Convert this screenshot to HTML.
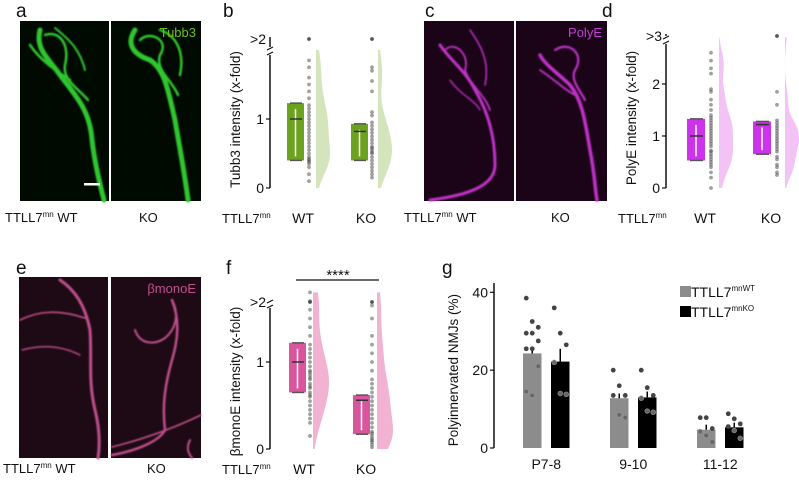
<!DOCTYPE html>
<html><head><meta charset="utf-8">
<style>
html,body{margin:0;padding:0;background:#fff;}
svg{display:block;font-family:"Liberation Sans",Arial,sans-serif;}
</style></head>
<body>
<svg id="fig" width="799" height="481" viewBox="0 0 799 481" xmlns="http://www.w3.org/2000/svg">
<defs>
<filter id="glow" x="-20%" y="-20%" width="140%" height="140%"><feGaussianBlur stdDeviation="0.9"/></filter>
</defs>
<g font-size="19" fill="#111">
<text x="16" y="17">a</text>
<text x="223" y="17">b</text>
<text x="425" y="17">c</text>
<text x="602" y="17">d</text>
<text x="16" y="274">e</text>
<text x="226" y="274">f</text>
<text x="442" y="274">g</text>
</g>

<g>
<rect x="20" y="21" width="89" height="180" fill="#010a01"/>
<rect x="111" y="21" width="90" height="180" fill="#010a01"/>
<g fill="none" stroke="#2fc62f" stroke-linecap="round" filter="url(#glow)">
<path d="M40 30 C35 50 50 60 60 75 C75 95 90 110 92 140 C95 165 100 185 104 200" stroke-width="5"/>
<path d="M45 35 C60 30 70 45 65 65 C62 80 80 90 88 100" stroke-width="2.5"/>
<path d="M30 45 C40 60 55 70 70 80" stroke-width="2.5"/>
<path d="M55 28 C70 40 80 50 85 70" stroke-width="2"/>
<path d="M135 30 C125 45 135 55 150 60 C165 70 168 90 175 120 C180 150 185 175 188 200" stroke-width="5"/>
<path d="M140 40 C150 30 170 40 160 55 C155 70 172 80 178 95" stroke-width="2.5"/>
<path d="M160 30 C175 35 185 50 180 75" stroke-width="2.5"/>
</g>
<text x="196" y="37" font-size="13" fill="#6cbe1e" text-anchor="end">Tubb3</text>
<rect x="84" y="183" width="16" height="2.5" fill="#fff"/>
</g>

<g>
<rect x="424" y="21" width="90" height="180" fill="#1c0418"/>
<rect x="516" y="21" width="91" height="180" fill="#1c0418"/>
<g fill="none" stroke="#c030c8" stroke-linecap="round" filter="url(#glow)">
<path d="M440 45 C450 60 465 70 475 90 C490 115 495 140 495 165 C495 185 470 195 430 200" stroke-width="3"/>
<path d="M445 50 C455 40 470 55 465 70 C470 85 485 95 490 110" stroke-width="1.8"/>
<path d="M470 30 C480 45 490 60 485 85" stroke-width="1.5"/>
<path d="M450 80 C460 95 475 100 480 110" stroke-width="1.3"/>
<path d="M540 55 C545 65 560 75 570 85 C582 100 585 120 590 150 C595 175 595 190 597 200" stroke-width="3.5"/>
<path d="M555 50 C570 40 585 55 575 70 C570 80 580 90 585 100" stroke-width="2.2"/>
<path d="M540 70 C555 80 565 90 575 95" stroke-width="1.8"/>
</g>
<text x="602" y="37" font-size="13" fill="#c040d8" text-anchor="end">PolyE</text>
</g>

<g>
<rect x="19" y="277" width="89" height="181" fill="#1e0a14"/>
<rect x="111" y="277" width="90" height="181" fill="#1e0a14"/>
<g fill="none" stroke="#c0508c" stroke-linecap="round" filter="url(#glow)">
<path d="M60 280 C75 290 85 305 90 330 C92 360 88 380 95 410 C100 430 100 445 98 458" stroke-width="3"/>
<path d="M20 320 C40 310 60 310 85 318" stroke-width="1.6"/>
<path d="M22 350 C40 345 60 345 80 355" stroke-width="1.3"/>
<path d="M135 330 C140 345 155 345 165 338 C175 330 180 315 172 300" stroke-width="2"/>
<path d="M172 300 C180 320 178 340 172 360 C165 385 162 405 165 430 C160 440 140 450 112 455" stroke-width="2.5"/>
<path d="M201 415 C170 430 140 440 112 447" stroke-width="1.6"/>
<path d="M190 440 C185 450 190 455 192 458" stroke-width="2"/>
</g>
<text x="196" y="293" font-size="13" fill="#c05090" text-anchor="end">βmonoE</text>
</g>

<g font-size="13" fill="#111">
<text x="5" y="222">TTLL7<tspan font-size="8" dy="-5">mn</tspan><tspan dy="5"> WT</tspan></text>
<text x="139" y="222">KO</text>
<text x="404" y="222">TTLL7<tspan font-size="8" dy="-5">mn</tspan><tspan dy="5"> WT</tspan></text>
<text x="551" y="222">KO</text>
<text x="3" y="473">TTLL7<tspan font-size="8" dy="-5">mn</tspan><tspan dy="5"> WT</tspan></text>
<text x="147" y="473">KO</text>
</g>

<g id="plots"></g>
</svg>
<script>
const groupLabels = ['WT', 'KO'];
const bQuart = [[0.4, 1.0, 1.23], [0.4, 0.82, 0.93]];
const bWT = [0.1,0.2,0.3,0.35,0.38,0.4,0.42,0.45,0.5,0.55,0.6,0.65,0.7,0.75,0.8,0.85,0.9,0.95,1.0,1.05,1.1,1.15,1.2,1.3,1.4,1.5,1.6,1.75,1.85,2.5];
const bKO = [0.15,0.2,0.25,0.3,0.35,0.4,0.45,0.5,0.52,0.55,0.58,0.6,0.65,0.7,0.75,0.8,0.85,0.9,0.95,1.05,1.1,1.4,1.55,1.7,1.75,2.5];
const dQuart = [[0.53, 1.0, 1.33], [0.65, 1.22, 1.28]];
const dWT = [0,0.2,0.3,0.4,0.45,0.5,0.55,0.6,0.65,0.7,0.72,0.8,0.85,0.9,0.95,1.0,1.05,1.1,1.15,1.2,1.25,1.3,1.35,1.4,1.5,1.6,1.7,1.85,1.9,2.2,2.3,2.45,2.6];
const dKO = [0.25,0.3,0.4,0.45,0.55,0.6,0.7,0.75,0.8,0.85,0.9,0.95,1.0,1.05,1.1,1.15,1.2,1.25,1.3,1.6,1.85,3.5];
const fQuart = [[0.65, 1.0, 1.22], [0.17, 0.56, 0.62]];
const fWT = [0.15,0.3,0.35,0.4,0.45,0.5,0.55,0.6,0.62,0.65,0.7,0.72,0.75,0.8,0.82,0.85,0.88,0.9,0.95,1.0,1.05,1.1,1.15,1.2,1.3,1.4,1.5,1.6,1.7,1.8,2.5];
const fKO = [0.02,0.05,0.08,0.1,0.12,0.15,0.18,0.2,0.25,0.3,0.35,0.4,0.45,0.5,0.55,0.6,0.65,0.7,0.75,0.8,0.9,1.0,1.1,1.2,1.3,1.5,1.65,2.5];

const gCategories = ['P7-8', '9-10', '11-12'];
const gWT = [24.3, 12.8, 4.7];
const gKO = [22.2, 13.0, 5.3];
const gWTerr = [1.6, 1.2, 1.3];
const gKOerr = [3.3, 1.5, 1.2];
const gWTdots = [[38.5,32.5,31,29.5,29.5,27.5,25.5,25.5,21,14.5,13.5],[20,16,13.5,13.5,8.5,7.8],[7.8,7.8,5,4.2,3.2,1.5]];
const gKOdots = [[36,29.5,26.5,22,14,13.8],[20,15.5,13.5,12.8,9.5,9.2],[8.8,7.5,6.2,5.5,4.5,2.5]];
const gTicks = [0, 20, 40];

const NS = 'http://www.w3.org/2000/svg';
const root = document.getElementById('plots');
function mk(tag, attrs, parent) {
  const e = document.createElementNS(NS, tag);
  for (const k in attrs) e.setAttribute(k, attrs[k]);
  (parent || root).appendChild(e);
  return e;
}

function raincloud(cfg) {
  const g = mk('g', {});
  
  
  const y = v => cfg.y0 - v * (cfg.y0 - cfg.y1);
  const yv = v => v > cfg.breakVal ? cfg.outY : y(v);
  const ax = mk('line', {x1: cfg.ax, x2: cfg.ax, y1: cfg.y0, y2: cfg.breakY + 4, stroke: '#111', 'stroke-width': 1.5}, g);
  
  
  mk('line', {x1: cfg.ax, x2: cfg.ax, y1: cfg.breakY - 4, y2: cfg.outY - 2, stroke: '#111', 'stroke-width': 1.5}, g);
  mk('path', {d: `M${cfg.ax-3} ${cfg.breakY-1} l6 -3 M${cfg.ax-3} ${cfg.breakY+4} l6 -3`, stroke: '#111', 'stroke-width': 1.2, fill: 'none'}, g);
  cfg.ticks.forEach(t => {
    mk('line', {x1: cfg.ax - 4, x2: cfg.ax, y1: y(t), y2: y(t), stroke: '#111', 'stroke-width': 1.2}, g);
    const tx = mk('text', {x: cfg.ax - 6, y: y(t) + 5, 'font-size': 14, 'text-anchor': 'end', fill: '#111'}, g);
    tx.textContent = t;
    
    
  });
  const ot = mk('text', {x: cfg.ax - 4, y: cfg.outY + 5, 'font-size': 14, 'text-anchor': 'end', fill: '#111'}, g);
  ot.textContent = cfg.outLabel;
  
  
  const yt = mk('text', {transform: `translate(${cfg.ax - 30},${(cfg.y0 + cfg.outY) / 2 + 6}) rotate(-90)`, 'font-size': 13.5, 'text-anchor': 'middle', fill: '#111'}, g);
  yt.textContent = cfg.ytitle;
  
  
  const xl = mk('text', {x: cfg.ax - 48, y: cfg.labelY, 'font-size': 13, fill: '#111'}, g);
  xl.innerHTML = 'TTLL7<tspan font-size="8" dy="-5">mn</tspan>';
  
  
  cfg.groups.forEach((grp, i) => {
    const bx = cfg.boxX[i], bw = cfg.boxW;
    const [q1, med, q3] = grp.q;
    const vx = cfg.violX[i];
    const vals = grp.data.map(v => Math.min(v, cfg.breakVal));
    const bw2 = 0.18;
    let maxd = 0;
    const steps = 60;
    const dens = [];
    for (let s = 0; s <= steps; s++) {
      const v = cfg.breakVal * s / steps;
      let d = 0;
      vals.forEach(x => { d += Math.exp(-0.5 * ((v - x) / bw2) ** 2); });
      dens.push([v, d]);
      if (d > maxd) maxd = d;
    }
    let p = `M${vx} ${y(0)}`;
    dens.forEach(([v, d]) => { p += ` L${(vx + d / maxd * cfg.violW).toFixed(1)} ${y(v).toFixed(1)}`; });
    p += ` L${vx} ${y(cfg.breakVal)} Z`;
    const vio = mk('path', {d: p, fill: cfg.violColor}, g);
    
    
    const box = mk('rect', {x: bx, y: y(q3), width: bw, height: y(q1) - y(q3), fill: cfg.boxColor}, g);
    
    
    mk('line', {x1: bx + bw / 2, x2: bx + bw / 2, y1: y(q3) + 6, y2: y(q1) - 4, stroke: '#fff', 'stroke-width': 1.5}, g);
    [q1, q3].forEach(q => mk('line', {x1: bx + 3, x2: bx + bw - 2, y1: y(q), y2: y(q), stroke: '#555', 'stroke-width': 1.5}, g));
    const mline = mk('line', {x1: bx + 3, x2: bx + bw - 2, y1: y(med), y2: y(med), stroke: '#333', 'stroke-width': 1.5}, g);
    
    
    grp.data.forEach(v => {
      const c = mk('circle', {cx: cfg.dotX[i], cy: yv(v), r: 1.9, fill: '#444', 'fill-opacity': v > cfg.breakVal ? 0.9 : 0.5}, g);
      
      
    });
    const gl = mk('text', {x: cfg.dotX[i] - 6, y: cfg.labelY, 'font-size': 14, 'text-anchor': 'middle', fill: '#111'}, g);
    gl.textContent = groupLabels[i];
    
    
  });
  return {g, y};
}

raincloud({name: 'tubb3-raincloud', ax: 270, y0: 188, y1: 119, breakVal: 2.0, breakY: 51, outY: 39, outLabel: '>2', ticks: [0, 1],
  ytitle: 'Tubb3 intensity (x-fold)', labelY: 223, boxX: [287, 351], boxW: 17, dotX: [309, 372], violX: [316, 378], violW: 14,
  boxColor: '#6ba21f', violColor: '#d4e5be',
  groups: [{q: bQuart[0], data: bWT}, {q: bQuart[1], data: bKO}]});

raincloud({name: 'polye-raincloud', ax: 666, y0: 188, y1: 136, breakVal: 2.9, breakY: 40, outY: 36, outLabel: '>3', ticks: [0, 1, 2],
  ytitle: 'PolyE intensity (x-fold)', labelY: 223, boxX: [687, 753], boxW: 18, dotX: [711, 777], violX: [719, 785], violW: 14,
  boxColor: '#cc33ea', violColor: '#f3c3f6',
  groups: [{q: dQuart[0], data: dWT}, {q: dQuart[1], data: dKO}]});

raincloud({name: 'betamonoe-raincloud', ax: 270, y0: 449, y1: 362, breakVal: 1.8, breakY: 304, outY: 302, outLabel: '>2', ticks: [0, 1],
  ytitle: 'βmonoE intensity (x-fold)', labelY: 474, boxX: [289, 353], boxW: 17, dotX: [310, 372], violX: [313, 377], violW: 16,
  boxColor: '#d9559d', violColor: '#f2b3d3',
  groups: [{q: fQuart[0], data: fWT}, {q: fQuart[1], data: fKO}]});

const sig = mk('g', {});


mk('line', {x1: 296, x2: 379, y1: 280, y2: 280, stroke: '#111', 'stroke-width': 1.3}, sig);
const st = mk('text', {x: 338, y: 280, 'font-size': 15, 'text-anchor': 'middle', fill: '#111'}, sig);
st.textContent = '****';

(function () {
  const g = mk('g', {});
  
  
  const ax = 494, y0 = 448, yTop = 292.3;
  const y = v => y0 - v / 40 * (y0 - yTop);
  const groupX = [523, 610, 697];
  const bw = 18.5, gap = 28;
  const axl = mk('line', {x1: ax, x2: ax, y1: y0, y2: 283, stroke: '#111', 'stroke-width': 1.5}, g);
  
  
  gTicks.forEach(t => {
    mk('line', {x1: ax - 4, x2: ax, y1: y(t), y2: y(t), stroke: '#111', 'stroke-width': 1.2}, g);
    const tx = mk('text', {x: ax - 6, y: y(t) + 5, 'font-size': 14, 'text-anchor': 'end', fill: '#111'}, g);
    tx.textContent = t;
    
    
  });
  const yt = mk('text', {transform: `translate(${ax - 36},${y(20)}) rotate(-90)`, 'font-size': 13.5, 'text-anchor': 'middle', fill: '#111'}, g);
  yt.textContent = 'Polyinnervated NMJs (%)';
  
  
  gCategories.forEach((c, i) => {
    const series = [[gWT, gWTerr, gWTdots, '#8c8c8c', 'wt'], [gKO, gKOerr, gKOdots, '#000', 'ko']];
    series.forEach(([vals, errs, dots, col, nm], j) => {
      const x = groupX[i] + j * gap;
      const r = mk('rect', {x: x, y: y(vals[i]), width: bw, height: y0 - y(vals[i]), fill: col}, g);
      
      
      mk('line', {x1: x + bw / 2, x2: x + bw / 2, y1: y(vals[i]), y2: y(vals[i] + errs[i]), stroke: '#000', 'stroke-width': 1.5}, g);
      const d = dots[i];
      d.forEach((v, k) => {
        const inside = v < vals[i];
        const off = ((k % 3) - 1) * 6;
        const dot = mk('circle', {cx: x + bw / 2 + off, cy: y(v), r: 2.4, fill: inside ? '#666' : '#444', stroke: inside ? '#999' : 'none', 'stroke-width': 0.6}, g);
        
        
      });
    });
    const xl = mk('text', {x: groupX[i] + gap / 2 + bw / 2, y: 469, 'font-size': 14, 'text-anchor': 'middle', fill: '#111'}, g);
    xl.textContent = c;
    
    
  });
  const lg = mk('g', {}, g);
  
  
  [['#8c8c8c', 'WT', 297], ['#000', 'KO', 317]].forEach(([col, s, yy]) => {
    const e = mk('g', {}, lg);
    
    
    mk('rect', {x: 680, y: yy - 11, width: 11, height: 11, fill: col}, e);
    const t = mk('text', {x: 691, y: yy, 'font-size': 14, fill: '#111'}, e);
    t.innerHTML = 'TTLL7<tspan font-size="8" dy="-6">mn' + s + '</tspan>';
  });
})();
</script>
</body></html>
